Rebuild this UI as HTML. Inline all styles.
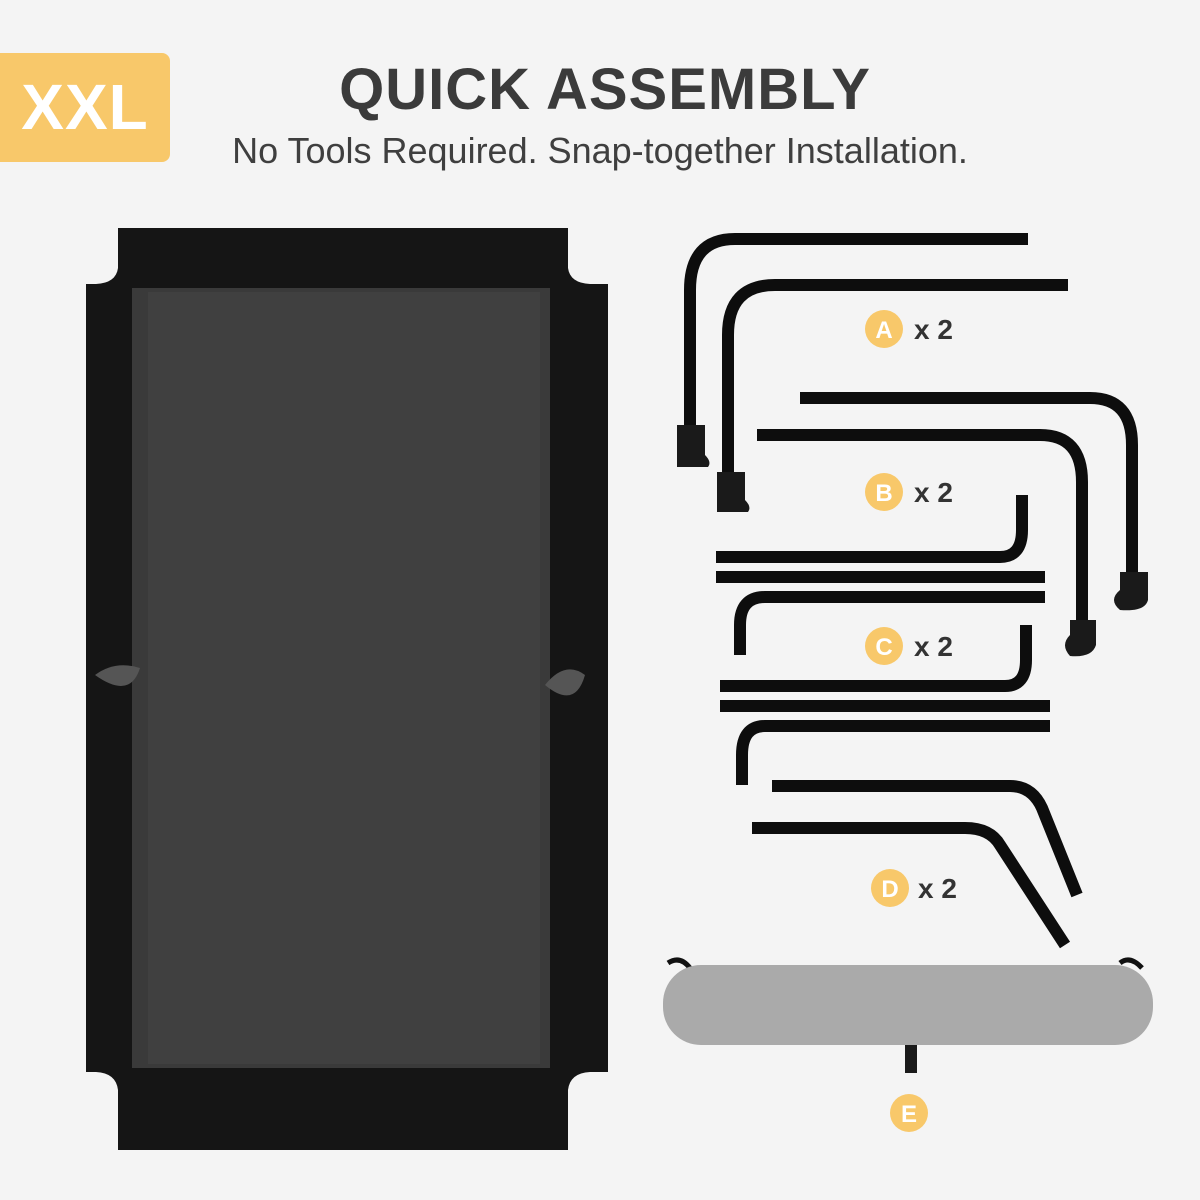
<!DOCTYPE html>
<html><head><meta charset="utf-8"><style>
html,body{margin:0;padding:0}
body{width:1200px;height:1200px;background:#f4f4f4;position:relative;overflow:hidden;font-family:"Liberation Sans",sans-serif}
.badge{position:absolute;left:0;top:53px;width:170px;height:109px;background:#f8c86a;border-radius:0 8px 8px 0;color:#fff;font-weight:bold;font-size:64px;line-height:109px;text-align:center;letter-spacing:1px}
.title{position:absolute;left:0;width:1210px;top:56px;text-align:center;font-size:58px;font-weight:bold;color:#3b3b3b;letter-spacing:1px}
.sub{position:absolute;left:0;width:1200px;top:130px;text-align:center;font-size:36px;color:#3f3f3f}
</style></head><body>
<div class="badge">XXL</div>
<div class="title">QUICK ASSEMBLY</div>
<div class="sub">No Tools Required. Snap-together Installation.</div>
<svg width="1200" height="1200" style="position:absolute;left:0;top:0">
<path d="M118,228 H568 V268 Q570,283 590,284 H608 V1072 H590 Q570,1073 568,1090 V1150 H118 V1090 Q116,1073 96,1072 H86 V284 H96 Q116,283 118,268 Z" fill="#151515"/>
<rect x="132" y="288" width="418" height="780" fill="#3a3a3a"/>
<rect x="148" y="292" width="392" height="772" fill="#404040"/>
<path d="M95,675 Q115,660 140,668 Q130,700 95,675Z" fill="#555"/>
<path d="M585,675 Q565,660 545,685 Q575,710 585,675Z" fill="#555"/>
<g fill="none" stroke="#0d0d0d" stroke-width="12" stroke-linecap="butt">
<path d="M1028,239 H735 Q690,239 690,290 V430"/>
<path d="M1068,285 H775 Q728,285 728,335 V475"/>
<path d="M800,398 H1090 Q1132,398 1132,445 V575"/>
<path d="M757,435 H1040 Q1082,435 1082,482 V625"/>
<path d="M716,557 H1000 Q1022,557 1022,530 V495"/>
<path d="M716,577 H1045"/>
<path d="M1045,597 H765 Q740,597 740,625 V655"/>
<path d="M720,686 H1005 Q1026,686 1026,660 V625"/>
<path d="M720,706 H1050"/>
<path d="M1050,726 H765 Q742,726 742,755 V785"/>
<path d="M772,786 H1010 Q1032,786 1042,808 L1077,895"/>
<path d="M752,828 H965 Q990,828 1000,845 L1065,945"/>
</g>
<g fill="#1a1a1a">
<path d="M677,425 H705 V455 Q712,462 708,467 H677Z"/>
<path d="M717,472 H745 V500 Q752,507 748,512 H717Z"/>
<path d="M1120,572 H1148 V600 Q1145,612 1120,610 Q1108,600 1120,590Z"/>
<path d="M1070,620 H1096 V645 Q1092,658 1070,656 Q1060,645 1070,635Z"/>
</g>
<path d="M668,963 Q680,955 690,968" stroke="#111" stroke-width="5" fill="none"/>
<path d="M1120,963 Q1130,955 1142,968" stroke="#111" stroke-width="5" fill="none"/>
<rect x="663" y="965" width="490" height="80" rx="38" fill="#aaaaaa"/>
<rect x="905" y="1045" width="12" height="28" fill="#1a1a1a"/>
<g font-family="Liberation Sans,sans-serif" font-weight="bold">
<circle cx="884" cy="329" r="19" fill="#f8c86a"/><text x="884" y="338" fill="#fff" font-size="24" text-anchor="middle">A</text><text x="914" y="339" fill="#333" font-size="28">x 2</text>
<circle cx="884" cy="492" r="19" fill="#f8c86a"/><text x="884" y="501" fill="#fff" font-size="24" text-anchor="middle">B</text><text x="914" y="502" fill="#333" font-size="28">x 2</text>
<circle cx="884" cy="646" r="19" fill="#f8c86a"/><text x="884" y="655" fill="#fff" font-size="24" text-anchor="middle">C</text><text x="914" y="656" fill="#333" font-size="28">x 2</text>
<circle cx="890" cy="888" r="19" fill="#f8c86a"/><text x="890" y="897" fill="#fff" font-size="24" text-anchor="middle">D</text><text x="918" y="898" fill="#333" font-size="28">x 2</text>
<circle cx="909" cy="1113" r="19" fill="#f8c86a"/><text x="909" y="1122" fill="#fff" font-size="24" text-anchor="middle">E</text>
</g>
</svg>
</body></html>
